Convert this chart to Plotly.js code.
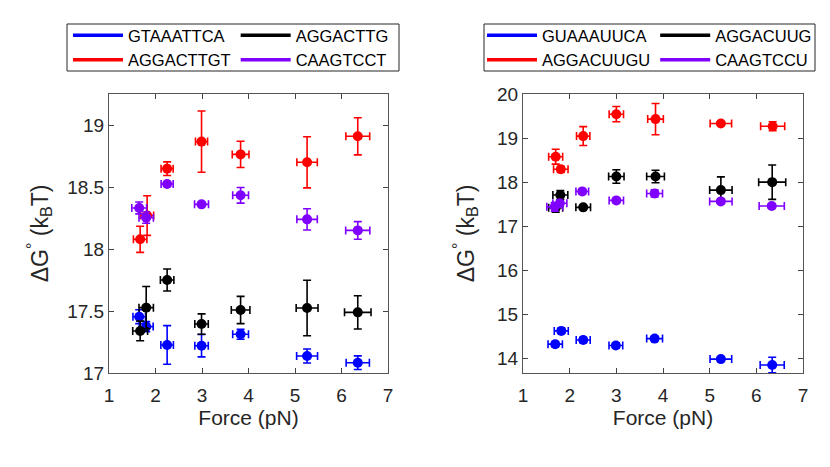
<!DOCTYPE html>
<html>
<head>
<meta charset="utf-8">
<script src="https://cdn.plot.ly/plotly-3.0.1.min.js"></script>
<style>
  html, body { margin: 0; padding: 0; background: #fff; }
  #chart { width: 830px; height: 467px; }
</style>
</head>
<body>
<div id="chart"></div>
<script>
// left panel (DNA)
const dnaNames = ["GTAAATTCA", "AGGACTTG", "AGGACTTGT", "CAAGTCCT"];

const dnaBlueX = [1.65, 1.80, 2.25, 2.99, 3.83, 5.26, 6.35];
const dnaBlueY = [17.454, 17.374, 17.226, 17.22, 17.312, 17.137, 17.083];
const dnaBlueEy = [0.056, 0.04, 0.156, 0.09, 0.04, 0.056, 0.055];
const dnaBlueEx = [0.135, 0.15, 0.135, 0.145, 0.17, 0.225, 0.25];

const dnaBlackX = [1.67, 1.80, 2.25, 2.99, 3.83, 5.26, 6.35];
const dnaBlackY = [17.339, 17.527, 17.75, 17.395, 17.508, 17.524, 17.489];
const dnaBlackEy = [0.079, 0.17, 0.089, 0.082, 0.11, 0.224, 0.134];
const dnaBlackEx = [0.16, 0.155, 0.145, 0.145, 0.2, 0.235, 0.285];

const dnaRedX = [1.67, 1.82, 2.25, 2.99, 3.83, 5.26, 6.35];
const dnaRedY = [18.078, 18.27, 18.648, 18.866, 18.763, 18.699, 18.909];
const dnaRedEy = [0.105, 0.16, 0.055, 0.247, 0.106, 0.206, 0.15];
const dnaRedEx = [0.145, 0.14, 0.13, 0.13, 0.18, 0.22, 0.256];

const dnaPurpleX = [1.65, 1.80, 2.25, 2.99, 3.83, 5.26, 6.35];
const dnaPurpleY = [18.331, 18.253, 18.524, 18.36, 18.433, 18.239, 18.15];
const dnaPurpleEy = [0.048, 0.045, 0.015, 0.015, 0.063, 0.086, 0.071];
const dnaPurpleEx = [0.16, 0.155, 0.13, 0.15, 0.17, 0.22, 0.26];

// right panel (RNA)
const rnaNames = ["GUAAAUUCA", "AGGACUUG", "AGGACUUGU", "CAAGTCCU"];

const rnaBlueX = [1.69, 1.82, 2.29, 2.99, 3.82, 5.24, 6.34];
const rnaBlueY = [14.324, 14.625, 14.42, 14.294, 14.45, 13.985, 13.85];
const rnaBlueEy = [0.06, 0.06, 0.06, 0.06, 0.05, 0.05, 0.177];
const rnaBlueEx = [0.154, 0.15, 0.15, 0.147, 0.17, 0.232, 0.258];

const rnaBlackX = [1.70, 1.80, 2.29, 3.0, 3.84, 5.24, 6.34];
const rnaBlackY = [17.42, 17.707, 17.428, 18.128, 18.128, 17.82, 18.0];
const rnaBlackEy = [0.1, 0.1, 0.03, 0.154, 0.143, 0.3, 0.39];
const rnaBlackEx = [0.15, 0.16, 0.157, 0.165, 0.19, 0.24, 0.29];

const rnaRedX = [1.70, 1.81, 2.29, 3.0, 3.84, 5.24, 6.35];
const rnaRedY = [18.578, 18.292, 19.045, 19.542, 19.43, 19.33, 19.27];
const rnaRedEy = [0.17, 0.07, 0.215, 0.173, 0.354, 0.04, 0.1];
const rnaRedEx = [0.15, 0.155, 0.143, 0.154, 0.168, 0.23, 0.258];

const rnaPurpleX = [1.68, 1.79, 2.27, 3.0, 3.82, 5.24, 6.33];
const rnaPurpleY = [17.44, 17.52, 17.79, 17.586, 17.744, 17.563, 17.458];
const rnaPurpleEy = [0.1, 0.06, 0.05, 0.05, 0.08, 0.05, 0.04];
const rnaPurpleEx = [0.17, 0.15, 0.136, 0.154, 0.17, 0.24, 0.27];

const colors = ["#0000ff", "#000000", "#ff0000", "#7f00ff"];
const font = "Liberation Sans, Arial, sans-serif";

function series(x, y, ex, ey, color, xa, ya) {
    return {
        x: x, y: y, xaxis: xa, yaxis: ya,
        type: "scatter", mode: "markers",
        marker: {color: color, size: 10},
        error_y: {type: "data", array: ey, color: color, thickness: 1.6, width: 4},
        error_x: {type: "data", array: ex, color: color, thickness: 1.6, width: 4},
        showlegend: false, hoverinfo: "x+y"
    };
}

// line-only entries for the legend boxes
function key(name, color, group, legend) {
    return {
        x: [null], y: [null], type: "scatter", mode: "lines",
        name: name, line: {color: color, width: 3.5},
        legendgroup: group, legend: legend, showlegend: true
    };
}

var data = [
    series(dnaBlueX, dnaBlueY, dnaBlueEx, dnaBlueEy, colors[0], "x", "y"),
    series(dnaBlackX, dnaBlackY, dnaBlackEx, dnaBlackEy, colors[1], "x", "y"),
    series(dnaRedX, dnaRedY, dnaRedEx, dnaRedEy, colors[2], "x", "y"),
    series(dnaPurpleX, dnaPurpleY, dnaPurpleEx, dnaPurpleEy, colors[3], "x", "y"),
    series(rnaBlueX, rnaBlueY, rnaBlueEx, rnaBlueEy, colors[0], "x2", "y2"),
    series(rnaBlackX, rnaBlackY, rnaBlackEx, rnaBlackEy, colors[1], "x2", "y2"),
    series(rnaRedX, rnaRedY, rnaRedEx, rnaRedEy, colors[2], "x2", "y2"),
    series(rnaPurpleX, rnaPurpleY, rnaPurpleEx, rnaPurpleEy, colors[3], "x2", "y2"),
    key(dnaNames[0], colors[0], "a", "legend"),
    key(dnaNames[2], colors[2], "a", "legend"),
    key(dnaNames[1], colors[1], "b", "legend"),
    key(dnaNames[3], colors[3], "b", "legend"),
    key(rnaNames[0], colors[0], "c", "legend2"),
    key(rnaNames[2], colors[2], "c", "legend2"),
    key(rnaNames[1], colors[1], "d", "legend2"),
    key(rnaNames[3], colors[3], "d", "legend2")
];

var xax = {
    range: [1, 7], dtick: 1, ticks: "inside", ticklen: 5, tickcolor: "#444",
    showline: true, mirror: "ticks", linecolor: "#555", linewidth: 1,
    showgrid: false, zeroline: false, fixedrange: true,
    tickfont: {size: 19, color: "#262626"}, ticklabelstandoff: 5,
    title: {text: "Force (pN)", font: {size: 21, color: "#262626"}, standoff: 0}
};
var yax = {
    ticks: "inside", ticklen: 5, tickcolor: "#444",
    showline: true, mirror: "ticks", linecolor: "#555", linewidth: 1,
    showgrid: false, zeroline: false, fixedrange: true,
    tickfont: {size: 19, color: "#262626"}
};
var yTitle = "ΔG<sup>°</sup> (k<sub>B</sub>T)";

var legendBase = {
    orientation: "h", traceorder: "grouped", tracegroupgap: 0,
    xanchor: "left", yanchor: "top",
    bgcolor: "rgba(0,0,0,0)", borderwidth: 0,
    font: {size: 16.5, color: "#000"}, itemwidth: 50
};

// legend frames
function frame(x0, x1) {
    return {
        type: "rect", xref: "paper", yref: "paper",
        x0: x0 / 830, x1: x1 / 830, y0: 1 - 71 / 467, y1: 1 - 24 / 467,
        line: {color: "#262626", width: 1}, fillcolor: "rgba(0,0,0,0)"
    };
}

var layout = {
    width: 830, height: 467,
    margin: {l: 0, r: 0, t: 0, b: 0},
    paper_bgcolor: "#fff", plot_bgcolor: "#fff",
    font: {family: font, color: "#262626"},
    xaxis: Object.assign({}, xax, {domain: [109 / 830, 388 / 830], anchor: "y"}),
    yaxis: Object.assign({}, yax, {domain: [1 - 373 / 467, 1 - 94 / 467], anchor: "x",
        range: [17, 19.25], dtick: 0.5,
        title: {text: yTitle, font: {size: 23, color: "#262626"}, standoff: 12}}),
    xaxis2: Object.assign({}, xax, {domain: [523 / 830, 803 / 830], anchor: "y2"}),
    yaxis2: Object.assign({}, yax, {domain: [1 - 373 / 467, 1 - 94 / 467], anchor: "x2",
        range: [13.67, 20], dtick: 1,
        title: {text: yTitle, font: {size: 23, color: "#262626"}, standoff: 16}}),
    legend: Object.assign({}, legendBase, {x: 68 / 830, y: 1 - 18 / 467}),
    legend2: Object.assign({}, legendBase, {x: 482 / 830, y: 1 - 18 / 467}),
    shapes: [frame(67, 399), frame(484, 815)],
    showlegend: true
};

Plotly.newPlot("chart", data, layout, {staticPlot: true});
</script>
</body>
</html>
